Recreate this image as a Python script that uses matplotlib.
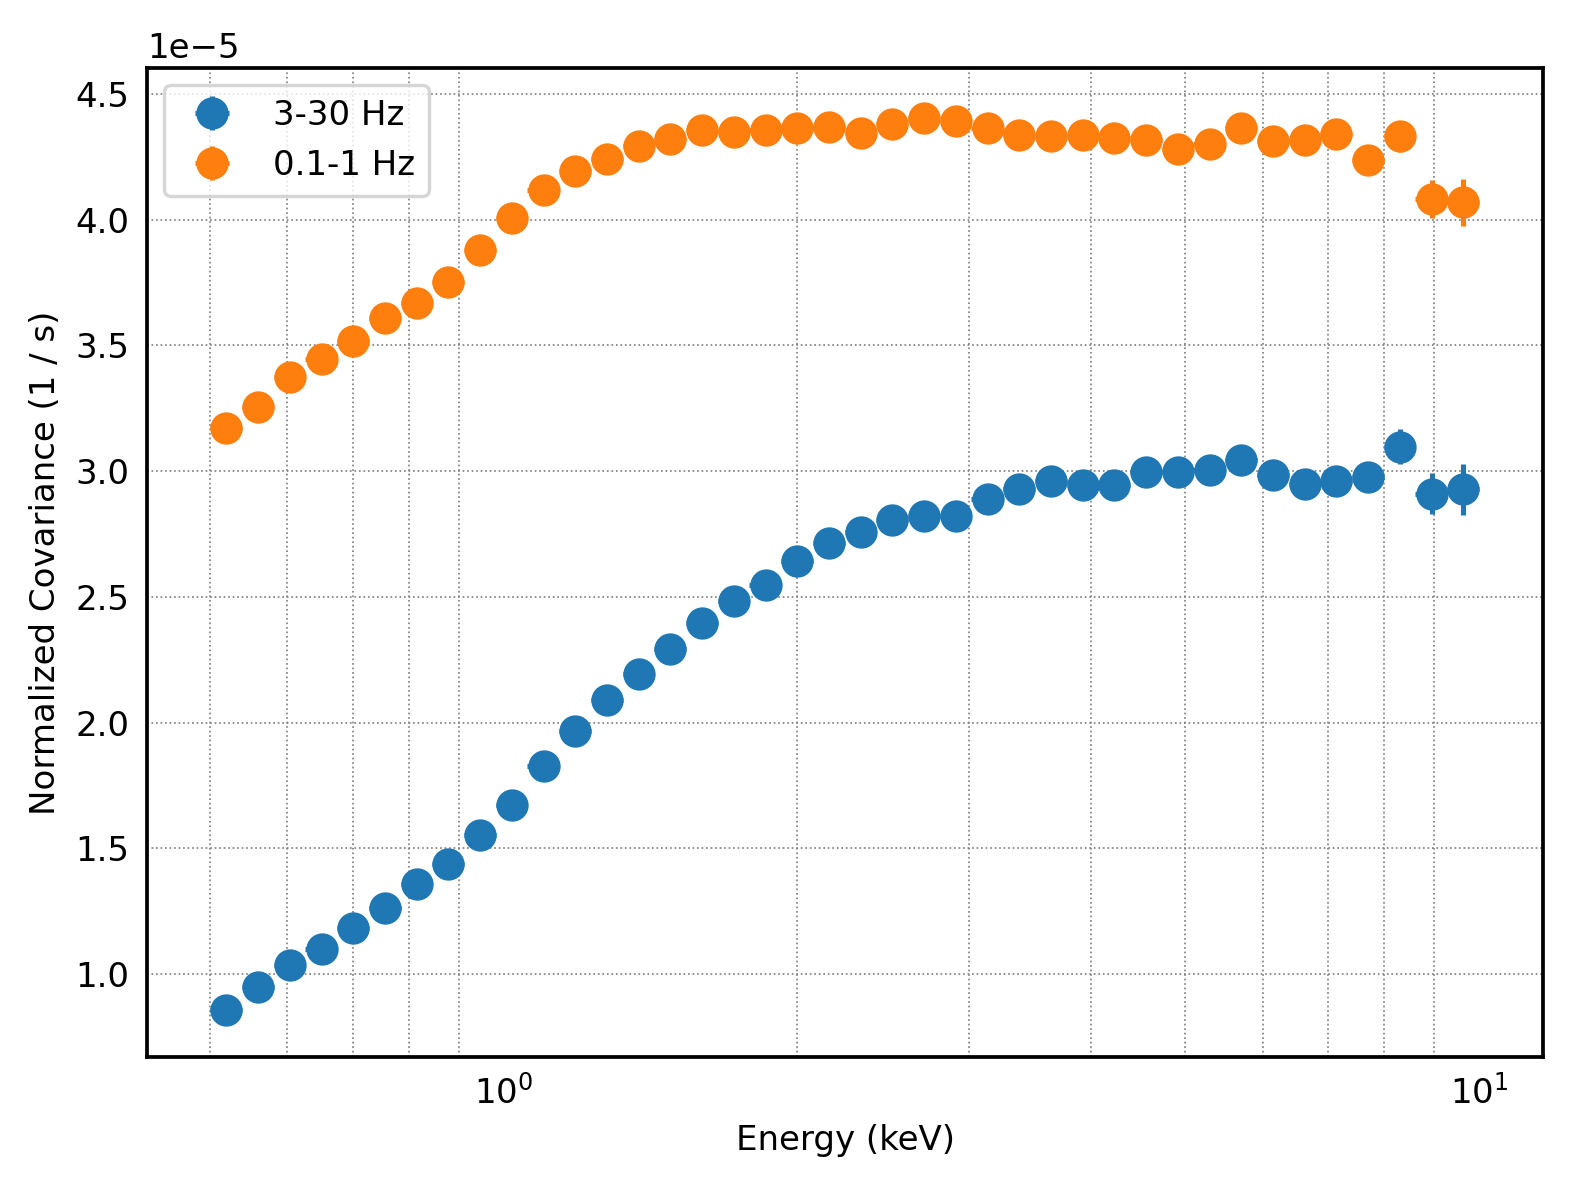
import numpy as np
import matplotlib
matplotlib.use('Agg')
import matplotlib.pyplot as plt

# energy bin edges (keV)
edges = [0.5, 0.5389, 0.5808, 0.6260, 0.6747, 0.7271, 0.7837, 0.8446, 0.9103, 0.9811,
         1.0574, 1.1397, 1.2283, 1.3238, 1.4268, 1.5377, 1.6573, 1.7862, 1.9251, 2.0749,
         2.2361, 2.4100, 2.5974, 2.7994, 3.0171, 3.2518, 3.5047, 3.7773, 4.0710, 4.3876,
         4.7289, 5.0966, 5.4930, 5.9202, 6.3807, 6.8769, 7.4117, 7.9882, 8.6094, 9.2790,
         10.0]

# covariance in units of 1e-5
cov_fast = [0.858, 0.948, 1.037, 1.099, 1.183, 1.262, 1.358, 1.438, 1.552, 1.672,
            1.827, 1.967, 2.090, 2.193, 2.292, 2.397, 2.484, 2.546, 2.643, 2.715,
            2.758, 2.806, 2.822, 2.822, 2.888, 2.928, 2.960, 2.945, 2.944, 2.996,
            2.996, 3.004, 3.044, 2.984, 2.948, 2.960, 2.977, 3.098, 2.911, 2.928]
err_fast = [0.010, 0.010, 0.010, 0.010, 0.011, 0.011, 0.011, 0.012, 0.012, 0.012,
            0.013, 0.013, 0.014, 0.014, 0.015, 0.015, 0.016, 0.016, 0.017, 0.018,
            0.018, 0.019, 0.020, 0.021, 0.022, 0.023, 0.024, 0.025, 0.026, 0.028,
            0.030, 0.032, 0.034, 0.036, 0.039, 0.042, 0.046, 0.068, 0.082, 0.101]

cov_slow = [3.171, 3.257, 3.373, 3.445, 3.518, 3.608, 3.668, 3.751, 3.878, 4.006,
            4.118, 4.193, 4.240, 4.293, 4.320, 4.357, 4.348, 4.357, 4.366, 4.367,
            4.344, 4.381, 4.403, 4.393, 4.364, 4.336, 4.332, 4.336, 4.324, 4.316,
            4.280, 4.300, 4.364, 4.312, 4.316, 4.340, 4.236, 4.332, 4.083, 4.069]
err_slow = [0.010, 0.010, 0.010, 0.011, 0.011, 0.011, 0.012, 0.012, 0.012, 0.013,
            0.013, 0.014, 0.014, 0.015, 0.015, 0.016, 0.016, 0.017, 0.018, 0.018,
            0.019, 0.019, 0.020, 0.021, 0.022, 0.023, 0.024, 0.025, 0.026, 0.027,
            0.029, 0.031, 0.033, 0.035, 0.038, 0.041, 0.045, 0.061, 0.075, 0.093]

labels = ['3-30 Hz', '0.1-1 Hz']

e = np.array(edges)
energy = 0.5*(e[1:] + e[:-1])
e_err = 0.5*(e[1:] - e[:-1])

plt.rcParams['font.size'] = 10

fig = plt.figure(figsize=(1572/245, 1187/245), dpi=245)
ax = fig.add_axes([0.0937, 0.1098, 0.9814-0.0937, 0.9425-0.1098])

ax.errorbar(energy, np.array(cov_fast)*1e-5, xerr=e_err, yerr=np.array(err_fast)*1e-5,
            fmt='o', ms=8.5, label=labels[0])
ax.errorbar(energy, np.array(cov_slow)*1e-5, xerr=e_err, yerr=np.array(err_slow)*1e-5,
            fmt='o', ms=8.5, label=labels[1])

ax.set_xscale('log')
ax.set_xlim(0.4309, 11.63)
ax.set_ylim(0.672e-5, 4.602e-5)

ax.grid(True, which='minor', axis='x', ls=':', color='gray', lw=0.5)
ax.grid(True, which='major', axis='y', ls=':', color='gray', lw=0.5)
ax.tick_params(which='both', length=0, pad=5.25)

for s in ax.spines.values():
    s.set_linewidth(1.1)

ax.set_xlabel('Energy (keV)')
ax.set_ylabel('Normalized Covariance (1 / s)')
ax.legend(loc='upper left')

fig.savefig('out.png', dpi=245)
